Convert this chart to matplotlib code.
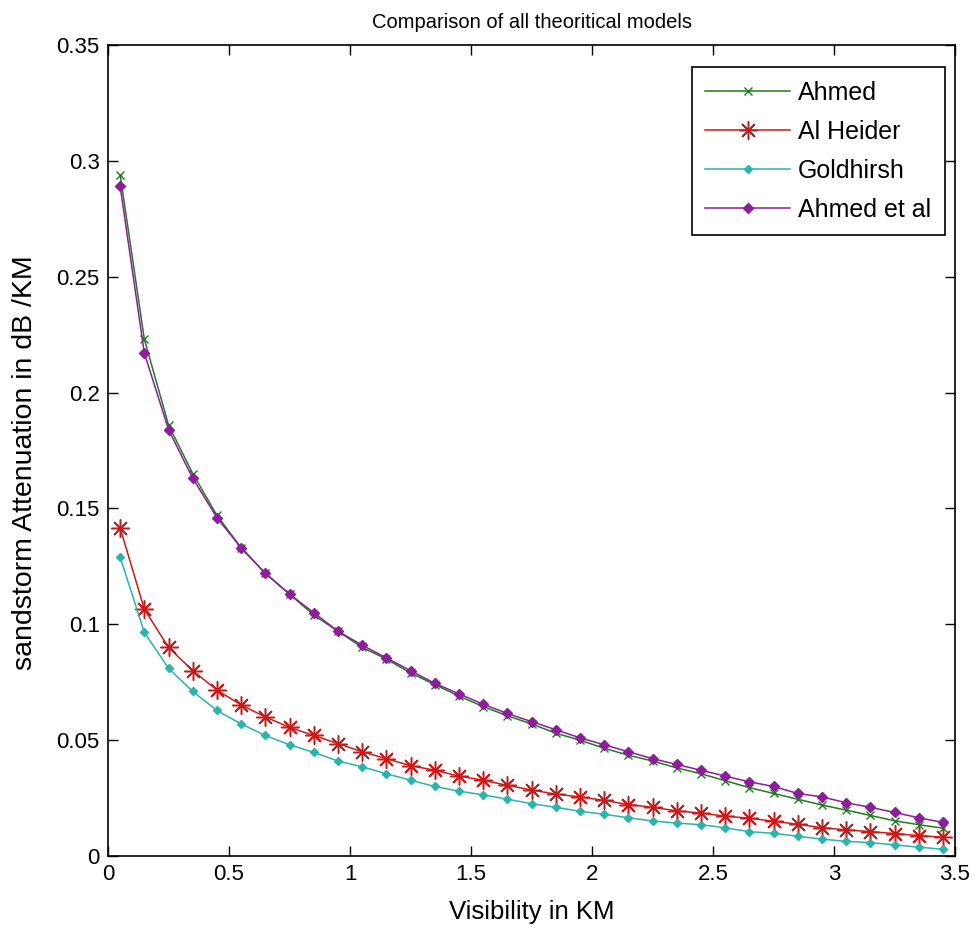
"""
Comparison of theoretical sandstorm attenuation models vs visibility.
Values read off the reference picture.
"""

import matplotlib.pyplot as plt

# 1. Data

visibility_km = [
    0.05, 0.15, 0.25, 0.35, 0.45, 0.55, 0.65, 0.75, 0.85, 0.95,
    1.05, 1.15, 1.25, 1.35, 1.45, 1.55, 1.65, 1.75, 1.85, 1.95,
    2.05, 2.15, 2.25, 2.35, 2.45, 2.55, 2.65, 2.75, 2.85, 2.95,
    3.05, 3.15, 3.25, 3.35, 3.45,
]

ahmed = [
    0.294, 0.223, 0.186, 0.165, 0.147, 0.133, 0.122, 0.113, 0.104, 0.097,
    0.090, 0.085, 0.079, 0.074, 0.069, 0.0645, 0.0605, 0.057, 0.053, 0.050,
    0.0465, 0.0435, 0.041, 0.038, 0.0355, 0.0325, 0.0295, 0.027, 0.0245, 0.022,
    0.0198, 0.0175, 0.0152, 0.0135, 0.012,
]

al_heider = [
    0.1416, 0.1065, 0.090, 0.080, 0.0716, 0.0652, 0.060, 0.0555, 0.052, 0.0485,
    0.045, 0.042, 0.039, 0.037, 0.0345, 0.0327, 0.0305, 0.0285, 0.0267, 0.0255,
    0.024, 0.0222, 0.021, 0.0195, 0.0185, 0.0172, 0.0163, 0.015, 0.0137, 0.0122,
    0.0113, 0.0105, 0.0097, 0.0088, 0.0081,
]

goldhirsh = [
    0.129, 0.0965, 0.081, 0.071, 0.0628, 0.057, 0.052, 0.048, 0.0447, 0.041,
    0.0385, 0.0355, 0.0327, 0.030, 0.028, 0.0264, 0.0245, 0.0226, 0.021, 0.0193,
    0.018, 0.0165, 0.0151, 0.0142, 0.0135, 0.0122, 0.0105, 0.0098, 0.0085, 0.0073,
    0.0063, 0.0058, 0.0048, 0.0038, 0.0029,
]

ahmed_et_al = [
    0.289, 0.217, 0.184, 0.163, 0.146, 0.133, 0.122, 0.113, 0.105, 0.097,
    0.091, 0.0855, 0.080, 0.0745, 0.070, 0.0655, 0.0615, 0.058, 0.0545, 0.051,
    0.048, 0.045, 0.042, 0.0395, 0.037, 0.0345, 0.032, 0.030, 0.027, 0.0255,
    0.023, 0.021, 0.0188, 0.0165, 0.0145,
]

x_ticks = [0, 0.5, 1, 1.5, 2, 2.5, 3, 3.5]
x_tick_labels = ["0", "0.5", "1", "1.5", "2", "2.5", "3", "3.5"]
y_ticks = [0, 0.05, 0.1, 0.15, 0.2, 0.25, 0.3, 0.35]
y_tick_labels = ["0", "0.05", "0.1", "0.15", "0.2", "0.25", "0.3", "0.35"]


# 2. Plot

plt.rcParams["font.family"] = ["Liberation Sans", "DejaVu Sans"]

fig = plt.figure(figsize=(9.76, 9.35), dpi=100)
ax = fig.add_axes([0.1107, 0.0845, 0.8678, 0.8674])

ax.plot(visibility_km, ahmed, color="#1e7d1e", marker="x", markersize=6,
        markeredgewidth=1.0, linewidth=1.1, label="Ahmed")
ax.plot(visibility_km, al_heider, color="#cc1a1a", marker=(8, 2, 0),
        markersize=13, markeredgewidth=1.1, linewidth=1.1, label="Al Heider")
ax.plot(visibility_km, goldhirsh, color="#2bb3ad", marker="D", markersize=4.5,
        linewidth=1.1, label="Goldhirsh")
ax.plot(visibility_km, ahmed_et_al, color="#8c1f99", marker="D", markersize=5.5,
        linewidth=1.1, label="Ahmed et al")

ax.set_xlim(0, 3.5)
ax.set_ylim(0, 0.35)
ax.set_xticks(x_ticks)
ax.set_xticklabels(x_tick_labels)
ax.set_yticks(y_ticks)
ax.set_yticklabels(y_tick_labels)
ax.tick_params(direction="in", top=True, right=True, length=7, width=1,
               labelsize=16, pad=6)
for spine in ax.spines.values():
    spine.set_linewidth(1.2)

ax.set_title("Comparison of all theoritical models", fontsize=14.5, pad=12)
ax.set_xlabel("Visibility in KM", fontsize=18.5, va="center")
ax.set_ylabel("sandstorm Attenuation in dB /KM", fontsize=20.5, va="center")
ax.xaxis.set_label_coords(0.5, -0.069)
ax.yaxis.set_label_coords(-0.098, 0.485)

legend = ax.legend(loc="upper right", bbox_to_anchor=(0.988, 0.973),
                   borderaxespad=0, fontsize=18, fancybox=False,
                   edgecolor="black", framealpha=1, handlelength=3.4,
                   labelspacing=0.6, handletextpad=0.3, borderpad=0.55)
legend.get_frame().set_linewidth(1.2)

plt.savefig("out.png", dpi=100)
plt.close()
